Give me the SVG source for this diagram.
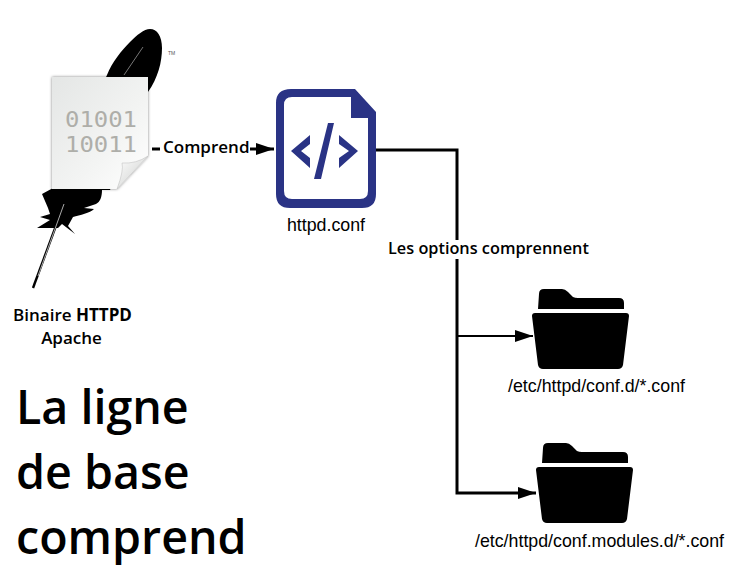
<svg xmlns="http://www.w3.org/2000/svg" width="742" height="570" viewBox="0 0 742 570">
<defs>
<style>
.sans{font-family:"Open Sans","Noto Sans",sans-serif;fill:#000;font-size:17px;font-weight:600}
.lab{font-family:"Open Sans","Noto Sans",sans-serif;font-weight:600;fill:#000}
.hel{font-family:"Liberation Sans",Arial,sans-serif;font-size:17.8px;fill:#000;text-anchor:middle}
.big{font-family:"Open Sans","Noto Sans",sans-serif;font-size:46.6px;font-weight:600;fill:#000}
.wire{fill:none;stroke:#000;stroke-width:3}
.wire2{fill:none;stroke:#000;stroke-width:2}
.bin{font-family:"DejaVu Sans Mono","Liberation Mono",monospace;font-size:21px;fill:#aeaea9}
</style>
<linearGradient id="paper" x1="0" y1="0" x2="1" y2="1"><stop offset="0" stop-color="#e4e6e5"/><stop offset="0.6" stop-color="#f3f4f3"/><stop offset="1" stop-color="#ffffff"/></linearGradient>
<linearGradient id="curl" x1="0" y1="0" x2="1" y2="1"><stop offset="0" stop-color="#ffffff"/><stop offset="1" stop-color="#c9cbc9"/></linearGradient>
<filter id="soft" x="-10%" y="-10%" width="120%" height="120%"><feDropShadow dx="0" dy="0" stdDeviation="1.6" flood-color="#000" flood-opacity="0.5"/></filter>
<marker id="arr" markerUnits="userSpaceOnUse" markerWidth="20" markerHeight="14" refX="18" refY="7" orient="auto"><path d="M0 1L18 7L0 13Z" fill="#000"/></marker>
<path id="folder" d="M6 20L7 5Q7 0 12 0H30Q33 0 36 3L41 8Q43 9 46 9H87Q92 9 92 14V20ZM0 27Q0 24 3 24H94Q97 24 97 27L91 76Q90 80 86 80H11Q7 80 6 76Z" fill="#000"/>
</defs>
<g id="connectors">
<path class="wire" d="M152 149H160"/>
<path class="wire" d="M250 149H274" marker-end="url(#arr)"/>
<path class="wire" d="M376 150H457V493H536" marker-end="url(#arr)"/>
<path class="wire2" d="M457 336H533" marker-end="url(#arr)"/>
</g>
<g id="binary">
<path d="M150 29C157 29 162 36 162 48C162 62 158 78 148 92L110 190L102 190C102 197 100 202 96 204L84 208L94 209C90 213 80 215 73 217L68 226L75 234L62 224L58 228L37 228L50 220L40 217L50 214L48 208L42 194L53 188L107 75C112 62 122 50 130 42C137 35 144 29 150 29Z" fill="#000"/>
<path d="M64 204L33 288" stroke="#000" stroke-width="2.4" fill="none"/>
<path d="M64 204L38 276" stroke="#aaa" stroke-width="1" fill="none"/>
<path d="M143 47L124 75" stroke="#777" stroke-width="1" fill="none"/>
<text x="168" y="55" font-family="Liberation Sans, sans-serif" font-size="5" fill="#555">TM</text>
<path d="M52 77H148V156L117 189H52Z" fill="url(#paper)" filter="url(#soft)"/>
<path d="M148 156L117 189Q124 170 122 163Q136 164 148 156Z" fill="url(#curl)" stroke="#bbb" stroke-width="0.5"/>
<text class="bin" x="65" y="127" textLength="72" lengthAdjust="spacingAndGlyphs">01001</text>
<text class="bin" x="65" y="152" textLength="72" lengthAdjust="spacingAndGlyphs">10011</text>
<text class="sans" x="72.5" y="321" text-anchor="middle">Binaire <tspan font-weight="700">HTTPD</tspan></text>
<text class="sans" x="71.5" y="344" text-anchor="middle">Apache</text>
</g>
<g id="edge-label-comprend"><text class="lab" font-size="17" x="163" y="153">Comprend</text></g>
<g id="httpd-conf">
<path fill-rule="evenodd" fill="#2a3385" d="M291 89H355L376 112V194Q376 208 362 208H290Q276 208 276 194V103Q276 89 291 89ZM292 97Q284 97 284 105V191Q284 199 292 199H360Q368 199 368 191V118H351V97Z"/>
<path d="M310 135L291 151L310 168V158L301 151L310 144ZM339 135L358 151L339 168V158L349 151L339 144ZM328 123H334L321 179H314Z" fill="#2a3385"/>
<text class="hel" x="326" y="231">httpd.conf</text>
</g>
<g id="edge-label-options"><rect x="387" y="240" width="202" height="19" fill="#fff"/><text class="lab" font-size="16.3" x="388" y="254">Les options comprennent</text></g>
<g id="conf-d">
<use href="#folder" x="532" y="289"/>
<text class="hel" x="596.5" y="392">/etc/httpd/conf.d/*.conf</text>
</g>
<g id="conf-modules-d">
<use href="#folder" x="536" y="443"/>
<text class="hel" x="599.5" y="547">/etc/httpd/conf.modules.d/*.conf</text>
</g>
<g id="title">
<text class="big" x="16" y="424">La ligne</text>
<text class="big" x="16" y="489">de base</text>
<text class="big" x="16" y="554">comprend</text>
</g>
</svg>
